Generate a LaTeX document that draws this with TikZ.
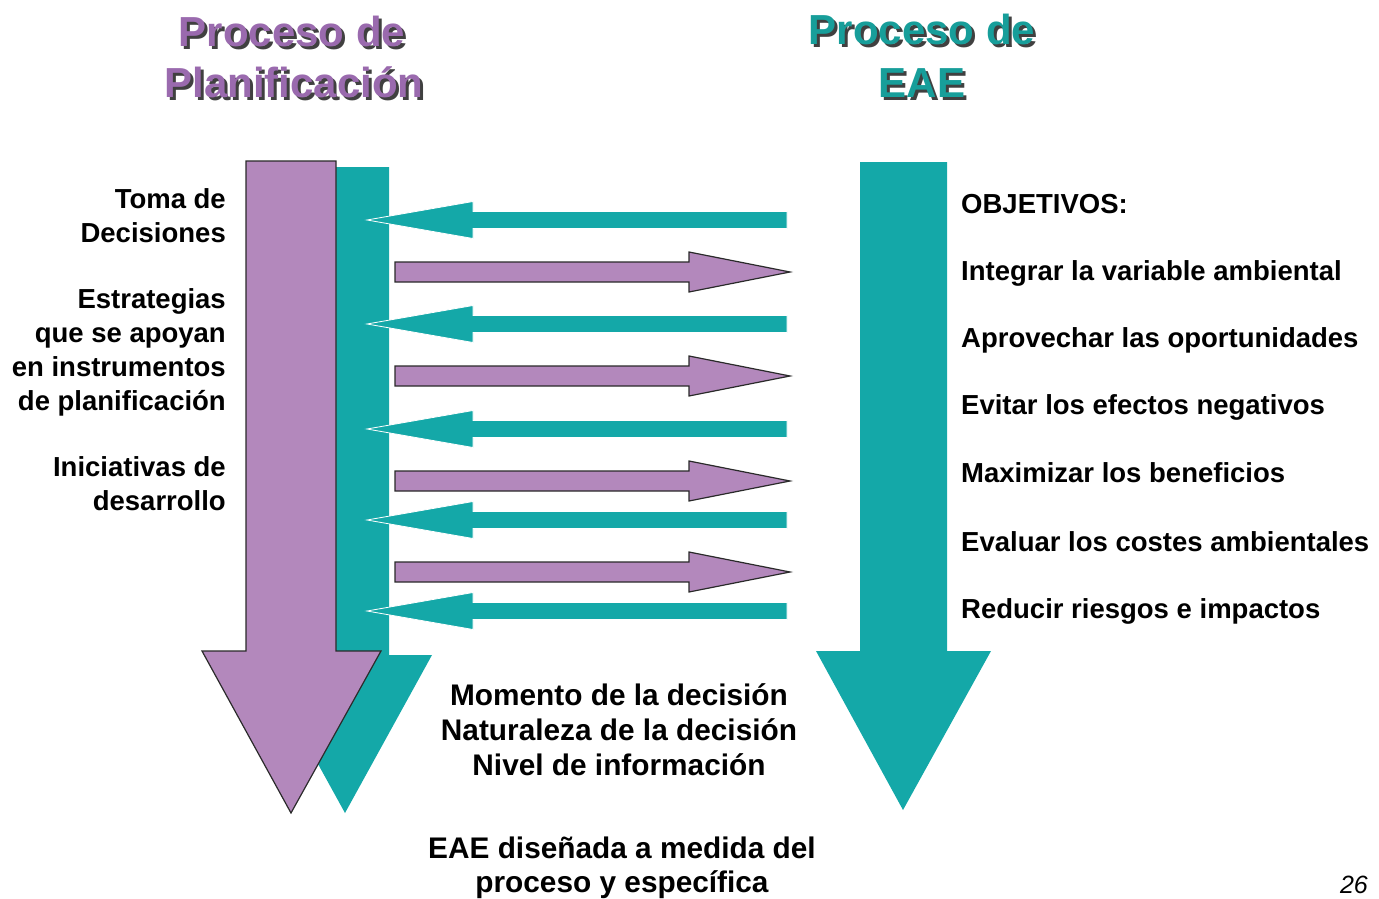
\documentclass[tikz,border=0pt]{standalone}
\usepackage{fontspec}
\setmainfont{Liberation Sans}
\definecolor{tealA}{HTML}{14A8A8}
\definecolor{purpA}{HTML}{B388BC}
\definecolor{titlepurp}{HTML}{9A6AAE}
\definecolor{titleteal}{HTML}{179E9A}
\definecolor{edgegray}{HTML}{2A2A2A}
\newcommand{\shadowedtitle}[2]{\makebox[0pt][l]{\hspace*{3pt}\raisebox{-3pt}{\textcolor{black!75}{#2}}}\textcolor{#1}{#2}}
\begin{document}
\begin{tikzpicture}[x=1pt,y=-1pt,
  txt/.style={font=\fontsize{27.5}{33}\selectfont\bfseries, inner sep=0pt, text=black},
  ctxt/.style={font=\fontsize{29.8}{35}\selectfont\bfseries, inner sep=0pt, text=black, anchor=base},
  ttl/.style={font=\fontsize{42}{48}\selectfont\bfseries, inner sep=0pt, anchor=base},
  tealfill/.style={fill=tealA, draw=none},
  tealharrow/.style={fill=tealA, draw=white, line width=0.8pt, line join=miter},
  purpfill/.style={fill=purpA, draw=edgegray, line width=1.2pt, line join=miter}]
\useasboundingbox (0,0) rectangle (1379,899);

% Titles with shadow
\node[ttl] (t1) at (292,47) {\shadowedtitle{titlepurp}{Proceso de}};
\node[ttl] (t2) at (294,97) {\shadowedtitle{titlepurp}{Planificación}};
\node[ttl] (t3) at (922,45) {\shadowedtitle{titleteal}{Proceso de}};
\node[ttl] (t4) at (922,97) {\shadowedtitle{titleteal}{EAE}};

% Teal vertical arrow behind the purple one
\path[tealfill] (301,167) -- (389,167) -- (389,655) -- (432,655) -- (345,813) -- (258,655) -- (301,655) -- cycle;
% Purple vertical arrow
\path[purpfill] (246,161) -- (336,161) -- (336,651) -- (381,651) -- (291,813) -- (202,651) -- (246,651) -- cycle;
% Right teal vertical arrow
\path[tealfill] (860,162) -- (947,162) -- (947,651) -- (991,651) -- (903,810) -- (816,651) -- (860,651) -- cycle;

% Teal horizontal arrows pointing left
\foreach \c in {220,324,429,520,611}{
  \path[tealharrow] (367,\c) -- (473,{\c-18.5}) -- (473,{\c-8.5}) -- (787,{\c-8.5}) -- (787,{\c+8.5}) -- (473,{\c+8.5}) -- (473,{\c+18.5}) -- cycle;
}
% Purple horizontal arrows pointing right
\foreach \c in {272,376,481,572}{
  \path[purpfill] (395,{\c-10}) -- (689,{\c-10}) -- (689,{\c-20}) -- (790,\c) -- (689,{\c+20}) -- (689,{\c+10}) -- (395,{\c+10}) -- cycle;
}

% Left column
\node[txt, anchor=base east] (l1) at (226,208) {Toma de};
\node[txt, anchor=base east] (l2) at (226,242) {Decisiones};
\node[txt, anchor=base east] (l3) at (226,308) {Estrategias};
\node[txt, anchor=base east] (l4) at (226,342) {que se apoyan};
\node[txt, anchor=base east] (l5) at (226,376) {en instrumentos};
\node[txt, anchor=base east] (l6) at (226,410) {de planificación};
\node[txt, anchor=base east] (l7) at (226,476) {Iniciativas de};
\node[txt, anchor=base east] (l8) at (226,510) {desarrollo};

% Right column
\node[txt, anchor=base west] (r0) at (961,213) {OBJETIVOS:};
\node[txt, anchor=base west] (r1) at (961,280) {Integrar la variable ambiental};
\node[txt, anchor=base west] (r2) at (961,347) {Aprovechar las oportunidades};
\node[txt, anchor=base west] (r3) at (961,414) {Evitar los efectos negativos};
\node[txt, anchor=base west] (r4) at (961,482) {Maximizar los beneficios};
\node[txt, anchor=base west] (r5) at (961,551) {Evaluar los costes ambientales};
\node[txt, anchor=base west] (r6) at (961,618) {Reducir riesgos e impactos};

% Center texts
\node[ctxt] (c1) at (619,705) {Momento de la decisión};
\node[ctxt] (c2) at (619,740) {Naturaleza de la decisión};
\node[ctxt] (c3) at (619,775) {Nivel de información};
\node[ctxt] (c4) at (622,858) {EAE diseñada a medida del};
\node[ctxt] (c5) at (622,892) {proceso y específica};

% Page number
\node[font=\fontsize{25}{30}\selectfont\itshape, inner sep=0pt, anchor=base east] (pg) at (1368,893) {26};
\end{tikzpicture}
\end{document}
